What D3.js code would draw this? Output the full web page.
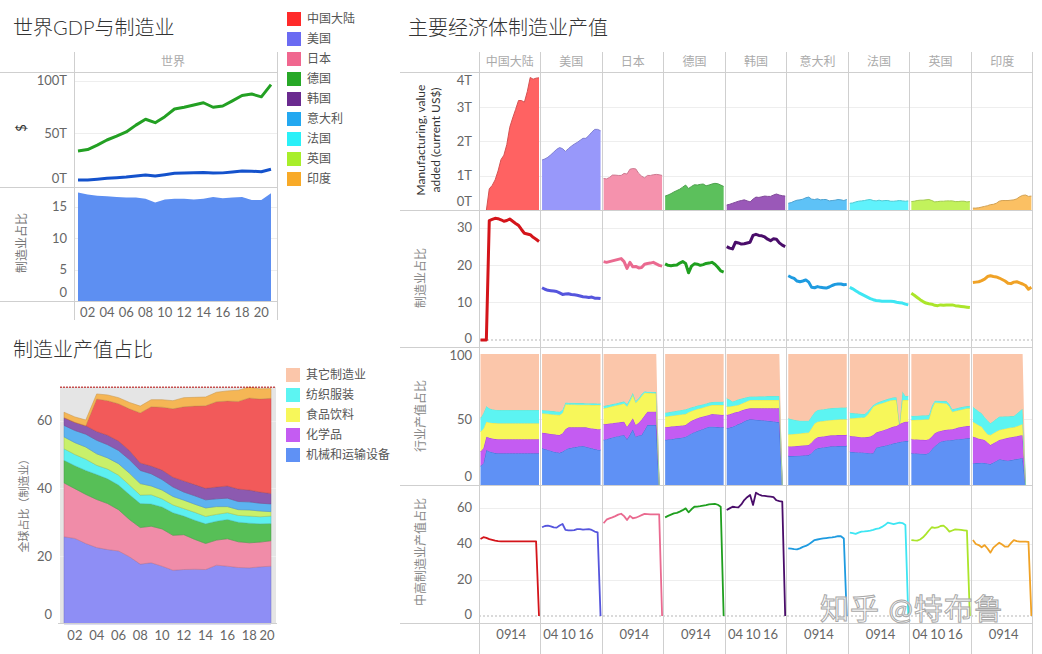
<!DOCTYPE html>
<html>
<head>
<meta charset="utf-8">
<script src="https://d3js.org/d3.v7.min.js"></script>
<style>
  body { margin: 0; background: #fff; }
  svg text { font-family: Lato, "Noto Sans CJK SC", sans-serif; }
</style>
</head>
<body>
<svg id="chart" width="1042" height="654"></svg>
<script>
// ---- data ----
var years = [2001,2002,2003,2004,2005,2006,2007,2008,2009,2010,2011,2012,2013,2014,2015,2016,2017,2018,2019,2020,2021];
var countries = ["中国大陆","美国","日本","德国","韩国","意大利","法国","英国","印度"];
var legendColors = ["#ff2a2a","#6b6bf2","#f0678f","#27a827","#6a2a8f","#23a8f0","#2af0f8","#a8ee2a","#f8aa28"];
var areaColors   = ["#ff6262","#9898fa","#f592ad","#5cc05c","#9a58b8","#5ec2f7","#5ff2fc","#c2f25c","#fbc063"];
var lineColors   = ["#d4141a","#5555dd","#ea6a90","#1f9f1f","#4a0d6a","#1e9be0","#3ee6f3","#abe52a","#f0a226"];
var shareColors  = ["#f25a5a","#8e8ef5","#f08ca8","#57bf57","#8c5ab0","#5cb3f0","#5cf0f0","#c9f06a","#f5b655"];

// world (trillion US$ and % of GDP), 2001-2021
var worldGdp = [33.4,34.7,38.9,43.8,47.5,51.5,58.0,63.6,60.3,66.0,73.3,75.0,77.2,79.3,75.0,76.2,81.1,86.2,87.6,84.9,96.5];
var worldMfg = [5.6,5.8,6.5,7.3,7.8,8.5,9.6,10.5,9.5,10.8,12.1,12.3,12.6,12.9,12.4,12.5,13.3,14.2,14.1,13.6,16.0];
var worldMfgPct = [17.3,17.0,16.8,16.7,16.6,16.5,16.5,16.3,15.7,16.2,16.3,16.3,16.2,16.3,16.6,16.4,16.5,16.6,16.1,16.1,17.2];

// share of world manufacturing, 2001-2020, country order as above
var shareYears = [2001,2002,2003,2004,2005,2006,2007,2008,2009,2010,2011,2012,2013,2014,2015,2016,2017,2018,2019,2020];
var globalShare = [
  [0,0,0,9.6,10.2,11.0,12.3,14.8,17.5,18.6,20.2,21.9,23.2,24.4,25.2,25.1,25.9,27.2,27.5,28.1],
  [25.8,25.3,23.8,22.6,22.0,21.6,19.9,17.7,18.1,17.1,15.9,16.1,16.2,16.1,17.4,17.1,16.7,16.6,16.9,17.1],
  [15.9,14.7,14.5,14.2,13.6,12.2,11.0,10.8,10.8,11.0,10.3,10.3,8.8,7.7,7.4,8.1,7.6,7.4,7.3,7.5],
  [6.7,6.8,7.1,7.4,7.3,7.3,7.4,7.1,6.6,6.5,6.7,5.5,5.7,5.8,5.6,5.7,5.8,5.8,5.4,5.1],
  [2.3,2.4,2.5,2.6,2.8,2.8,2.7,2.2,2.3,2.8,2.9,3.3,3.3,3.4,3.5,3.6,3.7,3.5,3.3,3.1],
  [3.4,3.6,3.8,4.0,3.9,3.9,4.0,3.9,3.6,3.1,2.8,2.4,2.5,2.4,2.3,2.5,2.4,2.4,2.3,2.3],
  [3.4,3.3,3.3,2.7,2.9,2.9,2.8,2.5,2.7,2.4,2.3,2.2,2.3,2.2,2.0,2.0,2.0,2.1,2.1,2.2],
  [3.5,3.5,3.6,3.4,3.3,3.4,3.5,3.4,2.6,2.6,2.5,2.5,2.4,2.5,2.3,1.8,1.7,1.8,1.7,1.3],
  [1.6,1.6,1.7,1.5,1.7,1.8,1.9,2.0,2.1,2.2,2.4,2.7,2.6,2.6,2.8,3.0,3.3,3.2,3.0,2.9]
];
var shareStackOrder = [1,2,3,6,7,5,4,0,8];

// manufacturing value added, trillion current US$
var mva = [
  [null,null,0,0.63,0.73,0.89,1.15,1.48,1.61,1.92,2.42,2.69,2.94,3.20,3.20,3.15,3.46,3.87,3.82,3.85,3.86],
  [1.47,1.50,1.55,1.62,1.70,1.78,1.83,1.80,1.72,1.80,1.87,1.93,1.98,2.04,2.10,2.10,2.18,2.28,2.36,2.36,2.32],
  [0.93,0.92,0.96,1.03,1.03,1.02,1.02,1.08,1.06,1.20,1.22,1.21,1.08,1.00,0.95,1.02,1.02,1.04,1.05,1.04,1.02],
  [0.42,0.45,0.49,0.54,0.58,0.62,0.68,0.74,0.64,0.70,0.75,0.74,0.76,0.77,0.72,0.74,0.77,0.79,0.78,0.74,0.70],
  [0.16,0.18,0.21,0.24,0.27,0.29,0.31,0.28,0.25,0.33,0.39,0.38,0.40,0.42,0.41,0.41,0.45,0.48,0.45,0.43,0.42],
  [0.21,0.23,0.27,0.30,0.31,0.33,0.37,0.39,0.33,0.32,0.34,0.31,0.32,0.32,0.28,0.29,0.30,0.32,0.31,0.29,0.32],
  [0.21,0.22,0.25,0.27,0.28,0.29,0.31,0.32,0.29,0.28,0.30,0.28,0.29,0.29,0.27,0.27,0.28,0.29,0.28,0.27,0.28],
  [0.26,0.27,0.29,0.30,0.30,0.31,0.32,0.29,0.25,0.26,0.27,0.27,0.28,0.28,0.28,0.26,0.26,0.27,0.27,0.25,0.26],
  [0.07,0.07,0.08,0.10,0.12,0.14,0.17,0.18,0.21,0.27,0.29,0.29,0.29,0.30,0.31,0.34,0.40,0.44,0.45,0.41,0.42]
];

// manufacturing, % of GDP
var mfgPct = [
  [0,0,0,32.0,32.3,32.6,32.5,32.2,31.8,32.0,32.4,31.8,31.2,30.7,29.6,28.6,28.4,28.2,27.5,27.0,26.4],
  [14.0,13.6,13.3,13.2,13.1,13.0,12.6,12.2,12.3,12.4,12.2,12.1,12.0,11.8,11.6,11.5,11.4,11.5,11.2,11.2,11.1],
  [21.0,20.8,21.0,21.2,21.4,21.6,21.8,21.0,19.2,20.8,19.6,19.7,19.3,19.4,20.3,20.5,20.6,20.8,20.4,20.0,19.8],
  [20.4,20.0,19.9,20.0,20.1,20.6,21.0,20.5,18.0,19.8,20.4,20.3,20.0,20.2,20.5,20.6,20.8,20.3,19.5,18.5,18.2],
  [25.0,24.6,24.4,26.2,26.0,25.7,25.8,26.0,26.2,28.0,28.3,28.0,27.9,27.6,27.0,26.6,27.1,27.0,26.0,25.4,25.0],
  [17.2,16.8,16.5,15.8,15.6,15.8,16.1,15.5,14.1,14.0,14.3,14.1,14.0,13.9,14.2,14.6,14.9,15.0,15.0,14.8,14.9],
  [14.1,13.7,13.2,12.7,12.3,11.9,11.5,11.1,10.8,10.6,10.5,10.4,10.4,10.4,10.4,10.3,10.1,10.0,9.9,9.6,9.4],
  [12.5,12.0,11.4,10.8,10.3,9.9,9.7,9.6,9.3,9.2,9.4,9.3,9.4,9.4,9.4,9.2,9.1,9.0,8.9,8.8,8.7],
  [15.4,15.5,15.6,15.9,16.3,17.0,17.2,17.0,16.9,16.6,16.2,15.8,15.2,15.1,15.5,15.6,15.3,15.0,14.6,13.6,14.1]
];

// industry shares of manufacturing (%)
var machShare = [
  [14.5,16.5,26.7,25.6,25.0,24.4,24.2,24.2,24.2,24.2,24.2,24.2,24.2,24.2,24.2,24.2,24.2,24.2,24.2,24.2,24.2],
  [28.0,27.4,26.8,26.2,25.4,25.0,24.6,25.5,27.0,28.0,28.4,28.8,29.2,29.6,29.8,29.2,28.6,28.0,27.4,26.9,26.7],
  [34.4,35.0,35.6,36.3,36.9,37.3,37.8,38.2,34.9,38.5,42.5,36.9,37.8,38.2,42.0,45.8,45.8,45.8,45.8,0],
  [34.4,34.7,35.0,35.3,35.6,35.9,36.3,36.9,38.0,39.4,40.3,41.2,42.0,42.8,43.7,44.5,44.5,44.4,44.2,44.1,44.0],
  [43.3,43.8,44.5,45.5,46.5,47.3,48.6,49.6,50.1,50.0,49.8,49.6,49.4,49.2,49.0,48.8,48.5,48.2,47.9,0],
  [22.1,22.1,22.2,22.3,22.4,22.5,22.7,22.9,24.5,27.0,28.0,28.4,28.7,29.0,29.3,29.5,29.6,29.7,29.8,29.8,29.8],
  [25.4,25.2,25.0,24.9,24.8,24.7,24.5,24.3,24.2,28.5,29.0,29.6,30.0,30.6,31.2,31.8,32.3,32.8,33.3,33.6,33.6],
  [24.2,24.1,24.0,23.9,23.8,23.7,24.5,27.3,29.5,31.5,33.1,33.6,34.0,34.2,34.4,34.7,35.0,35.2,35.4,35.6,35.6],
  [16.5,16.7,16.8,17.0,16.8,16.4,16.0,17.2,18.4,19.6,19.3,18.9,18.6,19.0,19.4,19.8,20.2,20.7,0]
];
var chemShare = [
  [10.9,11.5,10.2,10.4,10.5,10.7,10.7,10.7,10.7,10.7,10.7,10.7,10.7,10.7,10.7,10.7,10.7,10.7,10.7,10.7,10.7],
  [11.9,12.2,12.5,12.8,13.3,13.4,13.6,14.0,15.5,16.0,15.6,15.2,14.8,14.4,14.2,14.8,15.0,15.2,15.5,15.7,15.8],
  [11.9,11.6,11.3,10.9,10.6,10.4,10.2,10.1,9.6,9.0,8.4,8.9,9.7,11.8,11.0,10.2,10.2,10.2,10.2,0],
  [9.6,9.6,9.6,9.6,9.5,9.4,9.2,8.9,9.5,9.6,9.7,9.8,9.7,9.5,9.2,9.0,9.7,9.6,9.6,9.5,9.4],
  [10.1,10.2,10.3,10.0,9.5,9.5,9.0,8.6,8.4,8.5,8.7,8.9,9.1,9.3,9.5,9.7,10.0,10.3,10.6,0],
  [7.2,7.3,7.4,7.5,7.6,7.7,7.7,7.7,8.0,8.0,8.4,8.4,8.4,8.4,8.4,8.4,8.4,8.4,8.4,8.4,8.4],
  [12.0,12.0,12.0,11.8,11.7,11.7,12.1,12.7,14.0,11.5,11.8,11.9,12.2,12.4,12.6,12.8,12.8,13.7,14.2,14.7,14.7],
  [10.7,10.7,10.7,10.7,10.7,10.7,10.5,9.7,10.0,9.2,8.1,8.1,8.2,8.2,8.2,8.5,8.8,9.1,9.3,9.5,9.5],
  [20.4,19.5,18.6,17.9,17.6,16.1,14.5,14.6,14.7,14.8,15.7,16.6,17.4,17.5,17.5,17.5,17.5,17.3,0]
];
var foodShare = [
  [15.3,15.0,11.4,11.8,11.9,12.2,12.2,12.2,12.2,12.2,12.2,12.2,12.2,12.2,12.2,12.2,12.2,12.2,12.2,12.2,12.2],
  [14.8,14.9,15.0,15.0,15.1,15.2,15.2,15.5,19.1,17.5,17.4,17.4,17.3,17.3,17.3,17.2,17.6,17.9,18.2,18.5,18.6],
  [12.2,12.4,12.7,12.9,13.1,13.4,13.6,14.0,15.5,16.5,17.8,17.0,17.5,18.0,17.5,14.3,14.2,14.1,14.0,0],
  [8.2,8.2,8.2,8.2,8.3,8.4,8.5,8.4,8.0,7.5,7.3,7.0,6.8,6.9,7.0,7.0,6.9,7.1,7.3,7.5,7.7],
  [6.5,6.0,5.5,5.2,5.1,5.2,5.4,5.8,6.3,6.4,6.4,6.4,6.4,6.4,6.4,6.4,6.4,6.4,6.4,0],
  [9.4,9.4,9.4,9.4,9.4,9.4,9.4,9.4,11.0,12.0,11.9,11.8,11.8,11.8,11.8,11.8,11.9,11.9,11.9,11.9,11.9],
  [13.5,13.8,14.2,14.7,15.0,15.2,16.9,19.5,21.6,21.0,21.0,21.0,21.0,21.0,20.8,20.3,19.8,0,17.4,16.6,16.6],
  [14.7,14.9,15.1,15.3,15.5,15.7,15.1,21.0,23.4,22.1,21.4,20.8,20.1,17.6,13.3,13.3,13.2,13.2,13.3,13.4,13.4],
  [11.4,10.8,10.3,9.6,7.1,6.3,7.7,7.7,7.7,7.6,7.5,7.5,7.5,7.3,7.1,7.5,8.0,8.6,0]
];
var textileShare = [
  [10.2,12.0,12.0,10.7,10.4,10.2,10.2,10.2,10.2,10.2,10.2,10.2,10.2,10.2,10.2,10.2,10.2,10.2,10.2,10.2,10.2],
  [2.6,2.6,2.6,2.6,2.6,2.6,2.6,2.5,1.3,1.3,1.3,1.3,1.3,1.3,1.3,1.3,1.3,1.3,1.3,1.2,1.2],
  [1.8,1.8,1.7,1.7,1.7,1.7,1.7,1.6,1.8,1.8,1.8,1.3,1.5,1.5,1.0,0.9,0.9,0.9,1.0,0],
  [3.0,3.0,3.1,3.2,3.3,3.4,3.5,3.6,3.1,2.8,2.7,2.6,2.6,2.5,2.4,2.4,2.2,2.5,2.5,2.5,2.5],
  [6.4,5.2,3.4,3.8,4.4,4.0,3.6,3.2,2.8,2.6,2.7,2.8,2.8,2.9,3.0,3.0,3.1,3.1,3.1,0],
  [12.2,11.5,10.8,10.2,9.7,9.5,9.3,9.1,9.0,8.5,9.0,9.0,9.0,9.0,9.0,9.0,9.0,9.0,9.0,9.0,9.0],
  [4.3,4.0,3.5,3.1,2.8,2.6,2.5,2.0,1.3,1.5,1.7,1.8,1.8,1.8,1.9,2.0,2.0,0,6.6,3.1,3.1],
  [3.1,3.1,3.1,3.1,3.2,3.2,3.3,2.5,1.5,1.5,1.6,1.6,1.8,1.8,1.9,1.9,2.0,2.0,1.9,1.8,1.8],
  [11.5,11.0,10.6,10.2,10.5,10.7,8.9,9.3,9.7,10.2,9.8,9.4,9.0,8.8,8.7,9.7,10.8,11.7,0]
];
var industryNames  = ["其它制造业","纺织服装","食品饮料","化学品","机械和运输设备"];
var industryColors = ["#fbc6aa","#5cf4f2","#f7f75a","#c45cf2","#5f91f5"];
var industryEdges  = ["#fbc6aa","#7ad8b8","#d8d860","#9c3ed0","#3f5fc8"];

// medium & high-tech share of manufacturing (%)
var hiTechPct = [
  [42.8,43.8,43.4,42.7,42.3,41.9,41.6,41.5,41.5,41.5,41.5,41.5,41.5,41.5,41.5,41.5,41.5,41.5,41.5,41.5,0],
  [49.3,50.0,50.2,49.8,49.2,49.1,50.3,51.1,47.8,47.6,47.6,47.7,48.3,48.3,48.0,48.1,48.2,47.8,46.9,46.5,0],
  [51.5,53.5,54.2,54.8,55.5,56.3,56.8,55.5,53.3,55.6,54.3,54.6,55.3,56.0,56.7,56.6,56.5,56.5,56.5,56.5,0],
  [54.8,55.6,56.3,57.0,57.3,58.0,58.8,59.8,57.6,59.3,60.7,60.8,61.0,61.3,61.6,62.0,62.2,62.3,61.8,60.7,0],
  [58.9,59.8,60.7,60.5,60.4,62.0,64.4,66.0,67.2,61.7,68.5,67.5,66.9,66.7,66.5,66.3,66.0,64.3,63.8,63.5,0],
  [37.6,37.4,37.1,37.0,37.6,38.4,38.9,39.8,41.0,42.2,42.5,42.8,43.1,43.3,43.5,43.7,44.0,44.4,44.3,43.1,0],
  [46.3,46.0,45.6,46.3,46.9,47.0,47.2,47.4,47.8,48.4,48.7,49.5,50.5,51.9,51.5,51.1,51.5,51.9,51.6,50.5,0],
  [42.2,42.0,41.9,42.5,43.7,45.5,47.5,49.3,49.0,49.2,50.0,50.2,48.8,46.9,47.5,48.1,48.0,47.8,47.6,47.4,0],
  [42.2,40.0,39.4,38.2,39.4,37.5,35.2,38.0,39.4,40.7,39.7,38.5,38.5,40.5,42.2,41.6,41.3,41.3,41.3,41.2,0]
];
var colTicks = [[2009,2014],[2004,2010,2016],[2009,2014],[2009,2014],[2004,2010,2016],[2009,2014],[2009,2014],[2004,2010,2016],[2009,2014]];

// ---- helpers ----
var svg = d3.select("#chart");
var frame = "#cfcfcf", grid = "#eeeeee";
var cjk = "'Noto Sans CJK SC', sans-serif";
var yy = function(d) { return d3.format("02d")(d % 100); };

function hline(y, x1, x2, color) {
  svg.append("line").attr("x1", x1).attr("x2", x2).attr("y1", y).attr("y2", y)
    .attr("stroke", color || frame).attr("stroke-width", 1).attr("shape-rendering", "crispEdges");
}
function vline(x, y1, y2, color) {
  svg.append("line").attr("x1", x).attr("x2", x).attr("y1", y1).attr("y2", y2)
    .attr("stroke", color || frame).attr("stroke-width", 1).attr("shape-rendering", "crispEdges");
}
function yAxis(scale, vals, fmt, x, top, bottom) {
  var g = svg.append("g").attr("transform", "translate(" + x + ",0)")
    .call(d3.axisLeft(scale).tickValues(vals).tickFormat(fmt).tickSize(0).tickPadding(0));
  g.select(".domain").remove();
  g.selectAll(".tick").attr("transform", function(d) {
    return "translate(0," + Math.max(top + 9, Math.min(bottom - 8, scale(d))) + ")";
  });
  g.selectAll("text").attr("fill", "#666").attr("font-size", 13).attr("font-family", "Lato, sans-serif");
}
function xAxis(scale, vals, y, left, right) {
  var g = svg.append("g").attr("transform", "translate(0," + y + ")")
    .call(d3.axisBottom(scale).tickValues(vals).tickFormat(yy).tickSize(0).tickPadding(0));
  g.select(".domain").remove();
  g.selectAll(".tick").attr("transform", function(d) {
    return "translate(" + Math.max(left + 9, Math.min(right - 9, scale(d))) + ",0)";
  });
  g.selectAll("text").attr("fill", "#666").attr("font-size", 13).attr("font-family", "Lato, sans-serif")
    .attr("dy", "0.35em");
}
function gridLines(scale, vals, x1, x2) {
  vals.forEach(function(v) { hline(scale(v), x1, x2, grid); });
}
function vLabel(lines, x, y, size, color, family) {
  var t = svg.append("text").attr("transform", "translate(" + x + "," + y + ") rotate(-90)")
    .attr("text-anchor", "middle").attr("fill", color).attr("font-size", size)
    .attr("font-family", family);
  lines.forEach(function(s, i) {
    t.append("tspan").attr("x", 0).attr("dy", i ? "1.25em" : 0).text(s);
  });
}
function title(s, x, y) {
  svg.append("text").attr("x", x).attr("y", y).text(s).attr("fill", "#333")
    .attr("font-size", 20).attr("font-weight", 300).attr("font-family", cjk);
}

// ---- top-left: world GDP and manufacturing ----
title("世界GDP与制造业", 13, 35);
var tlX = d3.scaleLinear().domain([2001, 2021]).range([78, 271]);
var tlY1 = d3.scaleLinear().domain([0, 100]).range([186, 81]);
var tlY2 = d3.scaleLinear().domain([0, 15]).range([301.5, 207]);
gridLines(tlY1, [50, 100], 75, 277);
gridLines(tlY2, [5, 10, 15], 75, 277);
svg.append("path").datum(worldMfgPct)
  .attr("d", d3.area().x(function(d, i) { return tlX(years[i]); }).y0(tlY2(0)).y1(function(d) { return tlY2(d); }))
  .attr("fill", "#5d8ff2");
[[worldGdp, "#23a023"], [worldMfg, "#1452cc"]].forEach(function(s) {
  svg.append("path").datum(s[0])
    .attr("d", d3.line().x(function(d, i) { return tlX(years[i]); }).y(function(d) { return tlY1(d); }))
    .attr("fill", "none").attr("stroke", s[1]).attr("stroke-width", 3).attr("stroke-linejoin", "round");
});
hline(72, 0, 277); hline(187, 0, 277); hline(301, 0, 277);
vline(74, 52, 320); vline(277, 52, 320);
svg.append("text").attr("x", 173).attr("y", 62).attr("dy", "0.35em").attr("text-anchor", "middle")
  .attr("fill", "#aaa").attr("font-size", 12).attr("font-family", cjk).text("世界");
yAxis(tlY1, [0, 50, 100], function(d) { return d + "T"; }, 67, 72, 187);
yAxis(tlY2, [0, 5, 10, 15], d3.format("d"), 67, 187, 301);
xAxis(tlX, [2002,2004,2006,2008,2010,2012,2014,2016,2018,2020], 312, 74, 277);
vLabel(["$"], 26, 128, 13, "#333", "Lato, sans-serif");
vLabel(["制造业占比"], 26, 243, 12, "#777", cjk);

// legend: countries
countries.forEach(function(c, i) {
  svg.append("rect").attr("x", 287).attr("y", 12 + i * 20).attr("width", 14).attr("height", 14).attr("fill", legendColors[i]);
  svg.append("text").attr("x", 307).attr("y", 19 + i * 20).attr("dy", "0.35em").attr("fill", "#555")
    .attr("font-size", 12).attr("font-family", cjk).text(c);
});

// ---- bottom-left: share of world manufacturing ----
title("制造业产值占比", 13, 357);
var blX = d3.scaleLinear().domain([2001, 2020]).range([64, 271]);
var blY = d3.scaleLinear().domain([0, 60]).range([624, 421]);
svg.append("rect").attr("x", 60).attr("y", blY(70)).attr("width", 216).attr("height", 623 - blY(70)).attr("fill", "#e5e5e5");
gridLines(blY, [20, 40, 60], 60, 276);
var shareRows = shareYears.map(function(y, j) {
  var o = { year: y };
  countries.forEach(function(c, i) { o[i] = globalShare[i][j]; });
  return o;
});
var shareStack = d3.stack().keys(shareStackOrder)(shareRows);
var blArea = d3.area().x(function(d) { return blX(d.data.year); })
  .y0(function(d) { return blY(d[0]); }).y1(function(d) { return blY(d[1]); });
svg.append("g").selectAll("path").data(shareStack).join("path")
  .attr("d", blArea).attr("fill", function(d) { return shareColors[d.key]; })
  .attr("stroke", function(d) { return d3.color(shareColors[d.key]).darker(0.6); }).attr("stroke-width", 0.5);
svg.append("line").attr("x1", 60).attr("x2", 276).attr("y1", blY(70)).attr("y2", blY(70))
  .attr("stroke", "#b00000").attr("stroke-width", 1).attr("stroke-dasharray", "2,1");
hline(623, 58, 277);
yAxis(blY, [0, 20, 40, 60], d3.format("d"), 52, 380, 623);
xAxis(blX, [2002,2004,2006,2008,2010,2012,2014,2016,2018,2020], 635, 60, 276);
vLabel(["全球占比（制造业）"], 28, 503, 11, "#777", cjk);

// legend: industries
industryNames.forEach(function(c, i) {
  svg.append("rect").attr("x", 286).attr("y", 368 + i * 20).attr("width", 14).attr("height", 14).attr("fill", industryColors[i]);
  svg.append("text").attr("x", 306).attr("y", 375 + i * 20).attr("dy", "0.35em").attr("fill", "#555")
    .attr("font-size", 12).attr("font-family", cjk).text(c);
});

// ---- right: major economies ----
title("主要经济体制造业产值", 408, 35);
var colX0 = 479, colW = 61.55;
var r1Y = d3.scaleLinear().domain([0, 4]).range([210.5, 73]);
var r2Y = d3.scaleLinear().domain([0, 30]).range([340, 228]);
var r3Y = d3.scaleLinear().domain([0, 100]).range([485, 354]);
var r4Y = d3.scaleLinear().domain([0, 60]).range([616, 508]);
var xRight = colX0 + 9 * colW;

gridLines(r1Y, [1, 2, 3], colX0, xRight);
gridLines(r2Y, [10, 20, 30], colX0, xRight);
gridLines(r3Y, [50], colX0, xRight);
gridLines(r4Y, [20, 40, 60], colX0, xRight);
[r2Y(0), r4Y(0)].forEach(function(y) {
  svg.append("line").attr("x1", colX0).attr("x2", xRight).attr("y1", y).attr("y2", y)
    .attr("stroke", "#b5b5b5").attr("stroke-dasharray", "2,2");
});

countries.forEach(function(c, i) {
  var x0 = colX0 + i * colW;
  var x = d3.scaleLinear().domain([2001, 2021]).range([x0 + 1.5, x0 + 60]);
  var px = function(d, k) { return x(years[k]); };

  // row 1: value added
  var a1 = d3.area().defined(function(d) { return d != null; }).x(px).y0(r1Y(0)).y1(function(d) { return r1Y(d); });
  var l1 = d3.line().defined(function(d) { return d != null; }).x(px).y(function(d) { return r1Y(d); });
  svg.append("path").datum(mva[i]).attr("d", a1).attr("fill", areaColors[i]);
  svg.append("path").datum(mva[i]).attr("d", l1).attr("fill", "none")
    .attr("stroke", d3.color(areaColors[i]).darker(0.5)).attr("stroke-width", 1);

  // row 2: % of GDP
  svg.append("path").datum(mfgPct[i])
    .attr("d", d3.line().x(px).y(function(d) { return r2Y(d); }))
    .attr("fill", "none").attr("stroke", lineColors[i]).attr("stroke-width", 3).attr("stroke-linejoin", "round");

  // row 3: industry composition
  var rows = machShare[i].map(function(m, k) {
    var sum = m + chemShare[i][k] + foodShare[i][k] + textileShare[i][k];
    return { year: years[k], mach: m, chem: chemShare[i][k], food: foodShare[i][k],
             tex: textileShare[i][k], other: sum > 0 ? 100 - sum : 0 };
  });
  var st = d3.stack().keys(["mach", "chem", "food", "tex", "other"])(rows);
  st.forEach(function(layer, li) {
    var ci = 4 - li;
    svg.append("path").datum(layer)
      .attr("d", d3.area().x(function(d) { return x(d.data.year); })
        .y0(function(d) { return r3Y(d[0]); }).y1(function(d) { return r3Y(d[1]); }))
      .attr("fill", industryColors[ci]);
    if (li < 4) {
      svg.append("path").datum(layer)
        .attr("d", d3.line().x(function(d) { return x(d.data.year); }).y(function(d) { return r3Y(d[1]); }))
        .attr("fill", "none").attr("stroke", industryEdges[ci]).attr("stroke-width", 0.8);
    }
  });

  // row 4: medium & high tech share
  svg.append("path").datum(hiTechPct[i])
    .attr("d", d3.line().x(px).y(function(d) { return r4Y(d); }))
    .attr("fill", "none").attr("stroke", lineColors[i]).attr("stroke-width", 1.8).attr("stroke-linejoin", "round");

  // header + x axis
  svg.append("text").attr("x", x0 + colW / 2).attr("y", 62).attr("dy", "0.35em").attr("text-anchor", "middle")
    .attr("fill", "#aaa").attr("font-size", 12).attr("font-family", cjk).text(c);
  xAxis(x, colTicks[i], 634, x0, x0 + colW);
});

[72, 210, 347, 485, 623].forEach(function(y) { hline(y, 400, xRight); });
d3.range(10).forEach(function(k) { vline(colX0 + k * colW, 52, 654); });

yAxis(r1Y, [0, 1, 2, 3, 4], function(d) { return d + "T"; }, 472, 72, 210);
yAxis(r2Y, [0, 10, 20, 30], d3.format("d"), 472, 210, 347);
yAxis(r3Y, [0, 50, 100], d3.format("d"), 472, 347, 485);
yAxis(r4Y, [0, 20, 40, 60], d3.format("d"), 472, 485, 623);
vLabel(["Manufacturing, value", "added (current US$)"], 425, 140, 12, "#333", "Lato, sans-serif");
vLabel(["制造业占比"], 425, 278, 12, "#888", cjk);
vLabel(["行业产值占比"], 425, 416, 12, "#888", cjk);
vLabel(["中高制造业产值占比"], 425, 552, 12, "#888", cjk);

// watermark
svg.append("text").attr("x", 820).attr("y", 620).text("知乎 @特布鲁")
  .attr("font-size", 29).attr("font-family", cjk).attr("fill", "rgba(255,255,255,0.75)")
  .attr("stroke", "#a8a8a8").attr("stroke-width", 1).attr("letter-spacing", 1);
</script>
</body>
</html>
